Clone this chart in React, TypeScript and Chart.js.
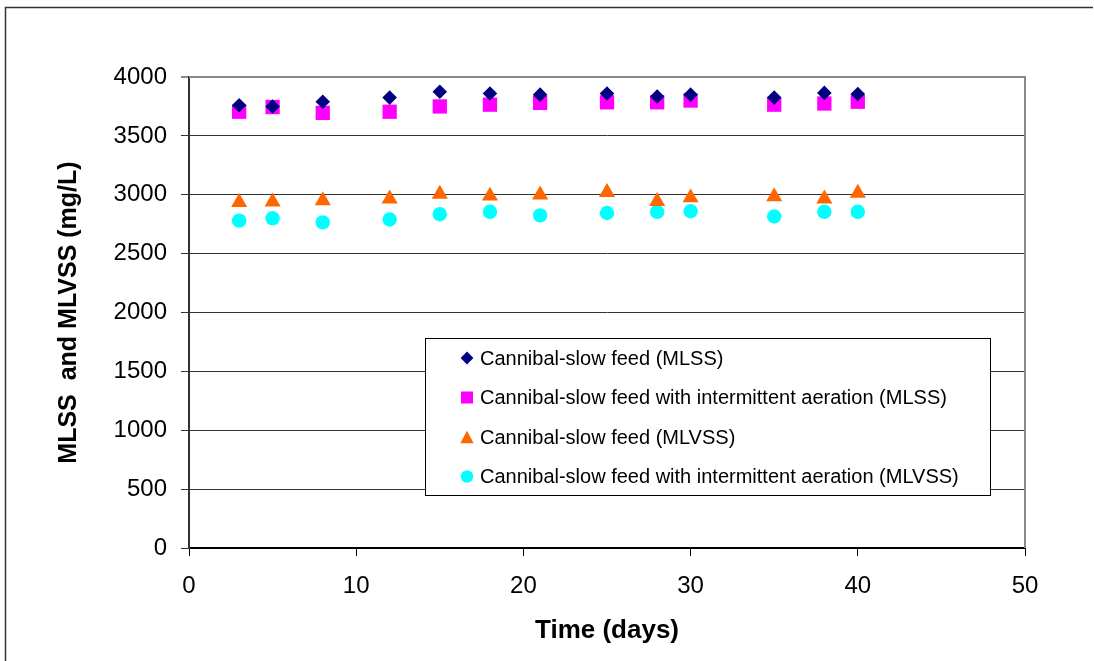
import React, { useEffect, useRef } from "react";
import { Chart, registerables } from "chart.js";

Chart.register(...registerables);

// ---- data ----
const days = [3, 5, 8, 12, 15, 18, 21, 25, 28, 30, 35, 38, 40];
const mlssSlowFeed = [3760, 3750, 3790, 3825, 3875, 3860, 3850, 3860, 3835, 3850, 3825, 3865, 3855];
const mlssIntermittent = [3705, 3745, 3695, 3705, 3750, 3765, 3780, 3785, 3785, 3800, 3765, 3775, 3790];
const mlvssSlowFeed = [2935, 2940, 2950, 2965, 3005, 2990, 3000, 3020, 2945, 2975, 2985, 2965, 3015];
const mlvssIntermittent = [2780, 2800, 2765, 2790, 2835, 2855, 2825, 2845, 2855, 2860, 2815, 2855, 2855];

const seriesLabels = [
  "Cannibal-slow feed (MLSS)",
  "Cannibal-slow feed with intermittent aeration (MLSS)",
  "Cannibal-slow feed (MLVSS)",
  "Cannibal-slow feed with intermittent aeration (MLVSS)",
];
const seriesValues = [mlssSlowFeed, mlssIntermittent, mlvssSlowFeed, mlvssIntermittent];
const seriesColors = ["#000080", "#FF00FF", "#FF6600", "#00FFFF"];
const seriesShapes = ["rectRot", "rect", "triangle", "circle"];
const seriesRadii = [7.3, 10.1, 9.3, 7.2];

const xMin = 0;
const xMax = 50;
const xStep = 10;
const yMin = 0;
const yMax = 4000;
const yStep = 500;
const xTitle = "Time (days)";
const yTitle = "MLSS  and MLVSS (mg/L)";

const W = 1094;
const H = 661;
const FONT = "'Liberation Sans', Arial, sans-serif";

function drawMarker(ctx: CanvasRenderingContext2D, shape: string, x: number, y: number, s: number) {
  ctx.beginPath();
  if (shape === "rectRot") {
    ctx.moveTo(x, y - s);
    ctx.lineTo(x + s, y);
    ctx.lineTo(x, y + s);
    ctx.lineTo(x - s, y);
    ctx.closePath();
  } else if (shape === "rect") {
    ctx.rect(x - s, y - s, 2 * s, 2 * s);
  } else if (shape === "triangle") {
    ctx.moveTo(x, y - s);
    ctx.lineTo(x + s * 1.08, y + s);
    ctx.lineTo(x - s * 1.08, y + s);
    ctx.closePath();
  } else {
    ctx.arc(x, y, s, 0, Math.PI * 2);
  }
  ctx.fill();
}

const framePlugin = {
  id: "framePlugin",
  beforeDraw(chart: any) {
    const ctx = chart.ctx as CanvasRenderingContext2D;
    ctx.save();
    ctx.fillStyle = "#ffffff";
    ctx.fillRect(0, 0, chart.width, chart.height);
    ctx.strokeStyle = "#333333";
    ctx.lineWidth = 1.5;
    ctx.beginPath();
    ctx.moveTo(5.5, chart.height + 5);
    ctx.lineTo(5.5, 7.5);
    ctx.lineTo(1093, 7.5);
    ctx.stroke();
    ctx.restore();
  },
  beforeDatasetsDraw(chart: any) {
    const ctx = chart.ctx as CanvasRenderingContext2D;
    const a = chart.chartArea;
    ctx.save();
    ctx.strokeStyle = "#8a8a8a";
    ctx.lineWidth = 2;
    ctx.beginPath();
    ctx.moveTo(a.left, a.top);
    ctx.lineTo(a.right, a.top);
    ctx.lineTo(a.right, a.bottom);
    ctx.stroke();
    ctx.restore();
  },
  afterDatasetsDraw(chart: any) {
    const ctx = chart.ctx as CanvasRenderingContext2D;
    ctx.save();
    const bx = 425;
    const by = 338;
    const bw = 565;
    const bh = 158;
    ctx.fillStyle = "#ffffff";
    ctx.fillRect(bx, by, bw, bh);
    ctx.strokeStyle = "#000000";
    ctx.lineWidth = 1;
    ctx.strokeRect(bx + 0.5, by + 0.5, bw, bh - 1);

    ctx.font = "20px " + FONT;
    ctx.textBaseline = "middle";
    ctx.textAlign = "left";
    const rowY = [358, 397.5, 437, 476.5];
    const ms = [6.4, 6, 6.2, 6.2];
    seriesLabels.forEach((lab, i) => {
      ctx.fillStyle = seriesColors[i];
      drawMarker(ctx, seriesShapes[i], 467, rowY[i], ms[i]);
      ctx.fillStyle = "#000000";
      ctx.fillText(lab, 480, rowY[i] + 1);
    });
    ctx.restore();
  },
};

export default function App() {
  const ref = useRef<HTMLCanvasElement | null>(null);

  useEffect(() => {
    if (!ref.current) return;
    const datasets = seriesLabels.map((label, i) => ({
      label,
      data: days.map((d, j) => ({ x: d, y: seriesValues[i][j] })),
      showLine: false,
      pointStyle: seriesShapes[i],
      pointRadius: seriesRadii[i],
      pointHoverRadius: seriesRadii[i],
      pointBackgroundColor: seriesColors[i],
      pointBorderColor: seriesColors[i],
      pointBorderWidth: 0,
      backgroundColor: seriesColors[i],
      borderColor: seriesColors[i],
    }));

    const chart = new Chart(ref.current, {
      type: "scatter",
      data: { datasets },
      plugins: [framePlugin],
      options: {
        responsive: false,
        animation: false,
        events: [],
        layout: { padding: { left: 0, right: 69, top: 77, bottom: 0 } },
        plugins: {
          legend: { display: false },
          tooltip: { enabled: false },
          title: { display: false },
        },
        scales: {
          x: {
            type: "linear",
            position: "bottom",
            min: xMin,
            max: xMax,
            afterFit: (scale: any) => {
              scale.height = 113;
            },
            ticks: {
              stepSize: xStep,
              color: "#000",
              padding: 16,
              maxRotation: 0,
              callback: (v: any) => String(v),
              font: { family: FONT, size: 24 },
            },
            grid: {
              display: true,
              drawOnChartArea: false,
              drawTicks: true,
              tickLength: 8,
              color: "#000",
              lineWidth: 1,
            },
            border: { display: true, color: "#000", width: 2 },
            title: {
              display: true,
              text: xTitle,
              color: "#000",
              font: { family: FONT, size: 26, weight: "bold" },
              padding: { top: 0, bottom: 15 },
            },
          },
          y: {
            type: "linear",
            min: yMin,
            max: yMax,
            afterFit: (scale: any) => {
              scale.width = 189;
            },
            ticks: {
              stepSize: yStep,
              color: "#000",
              padding: 14,
              callback: (v: any) => String(v),
              font: { family: FONT, size: 24 },
            },
            grid: {
              display: true,
              drawTicks: true,
              tickLength: 8,
              color: (c: any) => (c.tick && c.tick.value === yMax ? "#8a8a8a" : "#333333"),
              lineWidth: (c: any) => (c.tick && c.tick.value === yMax ? 2 : 1),
            },
            border: { display: true, color: "#333", width: 2 },
            title: {
              display: true,
              text: yTitle,
              color: "#000",
              font: { family: FONT, size: 25, weight: "bold" },
              padding: { top: 54, bottom: 0 },
            },
          },
        },
      } as any,
    });
    return () => chart.destroy();
  }, []);

  return (
    <div style={{ position: "absolute", left: 0, top: 0, width: W, height: H }}>
      <canvas ref={ref} width={W} height={H} style={{ display: "block", width: W, height: H }} />
    </div>
  );
}
